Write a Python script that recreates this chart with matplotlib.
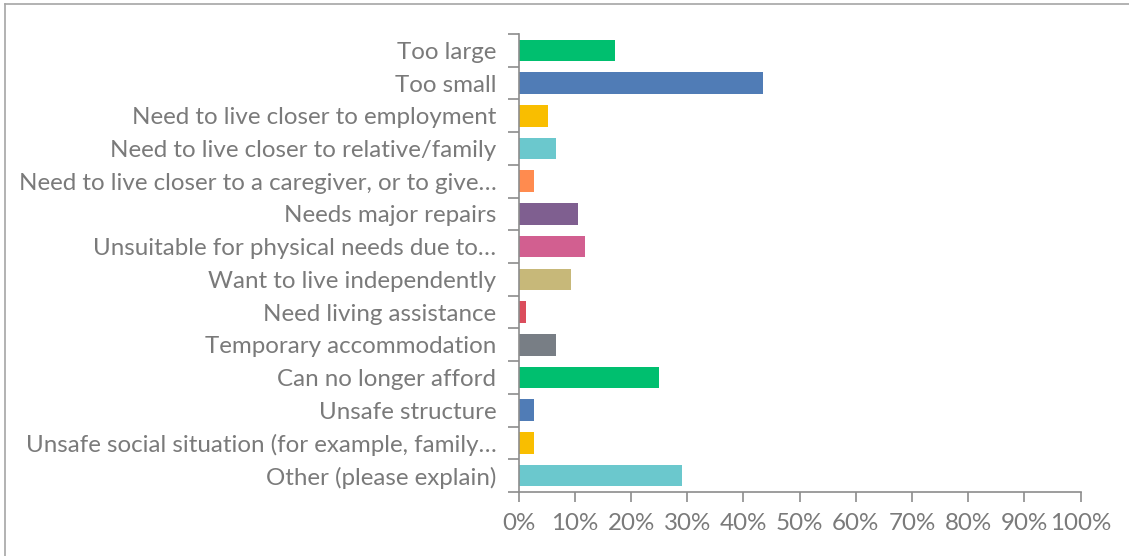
import matplotlib
matplotlib.use("Agg")
import matplotlib.pyplot as plt
import numpy as np
from matplotlib.lines import Line2D
from matplotlib.ticker import FixedLocator, PercentFormatter

categories = [
    "Too large",
    "Too small",
    "Need to live closer to employment",
    "Need to live closer to relative/family",
    "Need to live closer to a caregiver, or to give…",
    "Needs major repairs",
    "Unsuitable for physical needs due to…",
    "Want to live independently",
    "Need living assistance",
    "Temporary accommodation",
    "Can no longer afford",
    "Unsafe structure",
    "Unsafe social situation (for example, family…",
    "Other (please explain)",
]
shares = [17.1, 43.5, 5.2, 6.6, 2.7, 10.5, 11.8, 9.3, 1.3, 6.6, 25.0, 2.7, 2.7, 29.1]
colors = [
    "#00BF6F", "#507CB6", "#F9BE00", "#6BC8CD", "#FF8B4F", "#7F5F90", "#D25F90",
    "#C7B879", "#DB4D5C", "#787E85", "#00BF6F", "#507CB6", "#F9BE00", "#6BC8CD",
]

text_grey = "#7A7A7A"
axis_grey = "#8C8C8C"

plt.rcParams["font.family"] = ["Lato", "DejaVu Sans"]

fig = plt.figure(figsize=(11.29, 5.56), dpi=100)
ax = fig.add_axes([0.4594, 0.1151, 0.4978, 0.8237])

y = np.arange(len(categories))
ax.barh(y, shares, height=0.66, color=colors)

ax.set_xlim(0, 100)
ax.set_ylim(len(categories) - 0.5, -0.5)
ax.set_xticks(np.arange(0, 101, 10))
ax.xaxis.set_major_formatter(PercentFormatter(decimals=0))
ax.set_yticks(y)
ax.set_yticklabels(categories)
ax.yaxis.set_minor_locator(FixedLocator(np.arange(-0.5, len(categories), 1.0)))

ax.tick_params(axis="y", which="major", length=0, pad=16, labelsize=17.4, labelcolor=text_grey)
ax.tick_params(axis="y", which="minor", length=8, width=1.2, color=axis_grey, direction="out")
ax.tick_params(axis="x", length=7, width=1.2, color=axis_grey, pad=8, labelsize=17.4, labelcolor=text_grey)

for side in ("top", "right"):
    ax.spines[side].set_visible(False)
for side in ("left", "bottom"):
    ax.spines[side].set_color(axis_grey)
    ax.spines[side].set_linewidth(1.2)

# outer frame of the chart area (only top and left edges fall inside the image)
fig.add_artist(Line2D([5 / 1129, 1.0], [1 - 4 / 556, 1 - 4 / 556], color="#A6A6A6", lw=1.2))
fig.add_artist(Line2D([5 / 1129, 5 / 1129], [0.0, 1 - 4 / 556], color="#A6A6A6", lw=1.2))

fig.savefig("out.png", dpi=100)
